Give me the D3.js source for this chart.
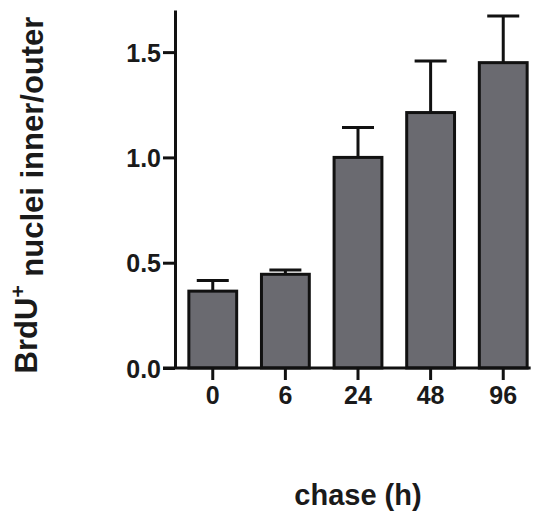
<!DOCTYPE html>
<html>
<head>
<meta charset="utf-8">
<script src="https://cdn.jsdelivr.net/npm/d3@7"></script>
<style>
  body { margin: 0; background: #fff; }
  text { font-family: "Liberation Sans", Arial, sans-serif; font-weight: bold; fill: #1a1a1a; }
</style>
</head>
<body>
<script>
// chart data
var chase = ["0", "6", "24", "48", "96"];
var means = [0.365, 0.445, 1.0, 1.213, 1.45];
var errs  = [0.05, 0.02, 0.142, 0.245, 0.222];
var yTicks = [0, 0.5, 1.0, 1.5];

var W = 537, H = 511;

var svg = d3.select("body")
    .append("svg")
    .attr("width", W)
    .attr("height", H);

//scales
var x = d3.scaleBand()
    .domain(chase)
    .range([175, 541])
    .paddingInner(0.3)
    .paddingOuter(0.17);

var y = d3.scaleLinear()
    .domain([0, 1.7])
    .range([368, 10]);

//bars
svg.append("g").selectAll("rect")
    .data(means)
    .enter()
    .append("rect")
    .attr("x", function(d, i){ return x(chase[i]) + 1.5; })
    .attr("width", x.bandwidth() - 3)
    .attr("y", function(d){ return y(d); })
    .attr("height", function(d){ return y(0) - y(d); })
    .style("fill", "#6a6a70")
    .style("stroke", "#111")
    .style("stroke-width", 3);

//error bars (upper only)
var capW = 32;
var eb = svg.append("g").selectAll("g")
    .data(means)
    .enter()
    .append("g")
    .style("stroke", "#111")
    .style("stroke-width", 3);
eb.append("line")
    .attr("x1", function(d, i){ return x(chase[i]) + x.bandwidth() / 2; })
    .attr("x2", function(d, i){ return x(chase[i]) + x.bandwidth() / 2; })
    .attr("y1", function(d){ return y(d); })
    .attr("y2", function(d, i){ return y(d + errs[i]); });
eb.append("line")
    .attr("x1", function(d, i){ return x(chase[i]) + x.bandwidth() / 2 - capW / 2; })
    .attr("x2", function(d, i){ return x(chase[i]) + x.bandwidth() / 2 + capW / 2; })
    .attr("y1", function(d, i){ return y(d + errs[i]); })
    .attr("y2", function(d, i){ return y(d + errs[i]); });

//y axis
var yAxis = svg.append("g")
    .attr("transform", "translate(175,0)")
    .call(d3.axisLeft(y).tickValues(yTicks).tickFormat(d3.format(".1f")).tickSize(12).tickSizeOuter(0).tickPadding(2));
yAxis.selectAll("path, line").style("stroke", "#111").style("stroke-width", 3);
yAxis.selectAll("text").style("font-size", "25px").attr("dy", "0.36em");

//x axis
var xAxis = svg.append("g")
    .attr("transform", "translate(0,368)")
    .call(d3.axisBottom(x).tickSize(12).tickPadding(6));
xAxis.select(".domain").remove();
xAxis.selectAll("line").style("stroke", "#111").style("stroke-width", 3);
xAxis.selectAll("text").style("font-size", "25px");
svg.append("line")
    .attr("x1", x.range()[0] - 12)
    .attr("x2", x(chase[chase.length - 1]) + x.bandwidth() + 2)
    .attr("y1", y(0))
    .attr("y2", y(0))
    .style("stroke", "#111")
    .style("stroke-width", 3);

//axis titles
svg.append("text")
    .attr("x", 358)
    .attr("y", 505)
    .style("text-anchor", "middle")
    .style("font-size", "29px")
    .text("chase (h)");

var yl = svg.append("text")
    .attr("transform", "translate(37,195) rotate(-90)")
    .style("text-anchor", "middle")
    .style("font-size", "31px");
yl.append("tspan").text("BrdU");
yl.append("tspan").attr("dy", "-0.55em").style("font-size", "21px").text("+");
yl.append("tspan").attr("dy", "0.55em").text(" nuclei inner/outer");
</script>
</body>
</html>
